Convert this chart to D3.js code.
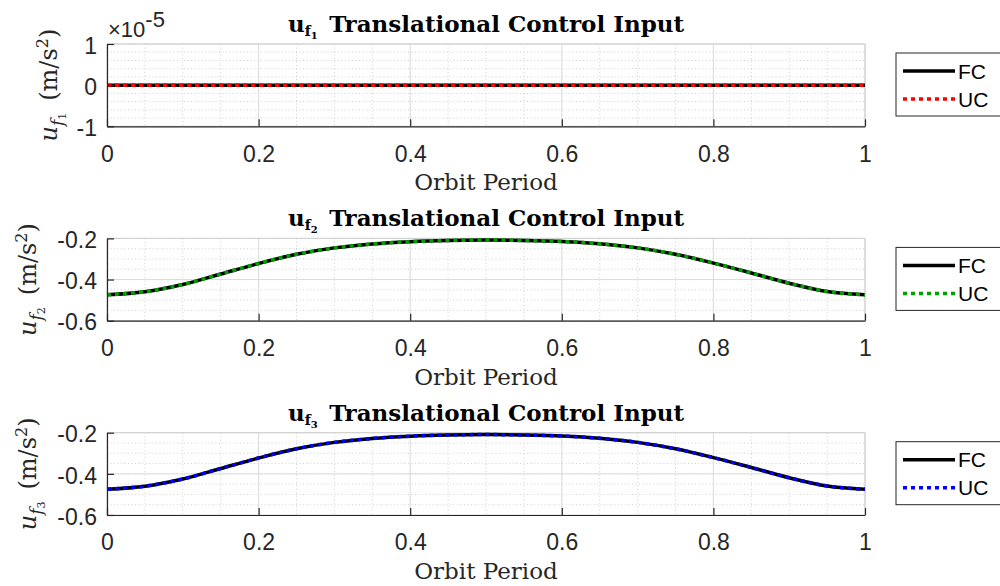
<!DOCTYPE html>
<html>
<head>
<meta charset="utf-8">
<script src="https://cdn.jsdelivr.net/npm/d3@7"></script>
<style>
  body { margin: 0; background: #fff; }
  svg { display: block; }
</style>
</head>
<body>
<div id="chart"></div>
<script>
// orbit period samples (x axis)
var period = [0, 0.05, 0.1, 0.15, 0.2, 0.25, 0.3, 0.35, 0.4, 0.45, 0.5,
              0.55, 0.6, 0.65, 0.7, 0.75, 0.8, 0.85, 0.9, 0.95, 1];

// u_f1 is zero all along the orbit
var uf1FC = [0, 0, 0, 0, 0, 0, 0, 0, 0, 0, 0, 0, 0, 0, 0, 0, 0, 0, 0, 0, 0];
var uf1UC = [0, 0, 0, 0, 0, 0, 0, 0, 0, 0, 0, 0, 0, 0, 0, 0, 0, 0, 0, 0, 0];

// u_f2 (m/s^2)
var uf2FC = [-0.474, -0.459, -0.424, -0.373, -0.322, -0.277, -0.246, -0.227, -0.216, -0.210, -0.208,
             -0.210, -0.215, -0.226, -0.246, -0.277, -0.320, -0.368, -0.418, -0.458, -0.474];
var uf2UC = [-0.474, -0.459, -0.424, -0.373, -0.322, -0.277, -0.246, -0.227, -0.216, -0.210, -0.208,
             -0.210, -0.215, -0.226, -0.246, -0.277, -0.320, -0.368, -0.418, -0.458, -0.474];

// u_f3 (m/s^2)
var uf3FC = [-0.475, -0.460, -0.425, -0.374, -0.323, -0.278, -0.247, -0.228, -0.217, -0.211, -0.209,
             -0.211, -0.216, -0.227, -0.247, -0.278, -0.321, -0.369, -0.419, -0.459, -0.475];
var uf3UC = [-0.475, -0.460, -0.425, -0.374, -0.323, -0.278, -0.247, -0.228, -0.217, -0.211, -0.209,
             -0.211, -0.216, -0.227, -0.247, -0.278, -0.321, -0.369, -0.419, -0.459, -0.475];

var xTicks = [0, 0.2, 0.4, 0.6, 0.8, 1];
var yTicks1 = [-1, 0, 1];
var yTicks23 = [-0.6, -0.4, -0.2];
var legendNames = ["FC", "UC"];

var W = 1000, H = 586;
var left = 107, right = 865, plotH = 82.3;
var tops = [44, 238.4, 432.7];
var sans = "'Liberation Sans', Arial, Helvetica, sans-serif";
var serif = "'DejaVu Serif', serif";
var axisColor = "#262626";

// ylabX: the ylabel sits left of the widest tick label
var panels = [
  {idx: "1", fc: uf1FC, uc: uf1UC, domain: [-1, 1], ticks: yTicks1, minor: 0.2, color: "#ff0000", exp: true, ylabX: 57},
  {idx: "2", fc: uf2FC, uc: uf2UC, domain: [-0.6, -0.2], ticks: yTicks23, minor: 0.05, color: "#00a000", ylabX: 36},
  {idx: "3", fc: uf3FC, uc: uf3UC, domain: [-0.6, -0.2], ticks: yTicks23, minor: 0.05, color: "#0000ff", ylabX: 36}
];

var svg = d3.select("#chart").append("svg")
    .attr("width", W)
    .attr("height", H);

var x = d3.scaleLinear().domain([0, 1]).range([left, right]);

panels.forEach(function(p, k) {
  var top = tops[k];
  var y = d3.scaleLinear().domain(p.domain).range([top + plotH, top]);
  var g = svg.append("g");

  // minor grid (dotted)
  var xMinor = d3.range(0, 1.0001, 0.05);
  g.selectAll(".xminor").data(xMinor).enter().append("line")
      .attr("x1", d => x(d)).attr("x2", d => x(d))
      .attr("y1", top).attr("y2", top + plotH)
      .attr("stroke", "#c4c4c4").attr("stroke-width", 0.8)
      .attr("stroke-dasharray", "1,2.5");
  var yMinor = d3.range(p.domain[0], p.domain[1] + 1e-9, p.minor);
  g.selectAll(".yminor").data(yMinor).enter().append("line")
      .attr("x1", left).attr("x2", right)
      .attr("y1", d => y(d)).attr("y2", d => y(d))
      .attr("stroke", "#c4c4c4").attr("stroke-width", 0.8)
      .attr("stroke-dasharray", "1,2.5");

  // major grid
  g.selectAll(".xmajor").data(xTicks).enter().append("line")
      .attr("x1", d => x(d)).attr("x2", d => x(d))
      .attr("y1", top).attr("y2", top + plotH)
      .attr("stroke", "#dcdcdc").attr("stroke-width", 1);
  g.selectAll(".ymajor").data(p.ticks).enter().append("line")
      .attr("x1", left).attr("x2", right)
      .attr("y1", d => y(d)).attr("y2", d => y(d))
      .attr("stroke", "#dcdcdc").attr("stroke-width", 1);

  // top and right edges are light
  g.append("path")
      .attr("d", "M" + left + "," + top + "H" + right + "V" + (top + plotH))
      .attr("fill", "none").attr("stroke", "#d0d0d0").attr("stroke-width", 1);

  // lines
  var line = d3.line()
      .x(function(d, i) { return x(period[i]); })
      .y(function(d) { return y(d); })
      .curve(d3.curveCatmullRom.alpha(0.5));

  g.append("path").datum(p.fc)
      .attr("d", line)
      .attr("fill", "none").attr("stroke", "#000").attr("stroke-width", 3.5);
  g.append("path").datum(p.uc)
      .attr("d", line)
      .attr("fill", "none").attr("stroke", p.color).attr("stroke-width", 3.5)
      .attr("stroke-dasharray", "4,4");

  // axes
  var xAxis = g.append("g")
      .attr("transform", "translate(0," + (top + plotH) + ")")
      .call(d3.axisBottom(x).tickValues(xTicks).tickSizeInner(-7).tickSizeOuter(0)
            .tickPadding(19).tickFormat(d3.format("")));
  var yAxis = g.append("g")
      .attr("transform", "translate(" + left + ",0)")
      .call(d3.axisLeft(y).tickValues(p.ticks).tickSizeInner(-7).tickSizeOuter(0)
            .tickPadding(10).tickFormat(function(d) { return d3.format("")(d).replace("\u2212", "-"); }));

  [xAxis, yAxis].forEach(function(a) {
    a.select(".domain").attr("stroke", axisColor).attr("stroke-width", 1.2);
    a.selectAll(".tick line").attr("stroke", axisColor).attr("stroke-width", 1.2);
    a.selectAll(".tick text")
      .attr("fill", axisColor)
      .style("font-family", sans)
      .style("font-size", "23px");
  });
  yAxis.selectAll(".tick text").attr("dy", "0.4em");

  // exponent label
  if (p.exp) {
    var e = g.append("text")
        .attr("x", left + 1).attr("y", top - 7)
        .attr("fill", axisColor)
        .style("font-family", sans).style("font-size", "22px");
    e.append("tspan").text("\u00d710");
    e.append("tspan").attr("dy", -10).text("-5");
  }

  // title
  var t = g.append("text")
      .attr("x", (left + right) / 2).attr("y", top - 12)
      .attr("text-anchor", "middle")
      .attr("fill", "#000")
      .style("font-family", serif).style("font-weight", "bold").style("font-size", "23px");
  t.append("tspan").text("u");
  t.append("tspan").attr("dy", 4).style("font-size", "14px").text("f");
  t.append("tspan").attr("dy", 3).style("font-size", "10px").text(p.idx);
  t.append("tspan").attr("dy", -7).text("\u2002Translational Control Input");

  // x label
  g.append("text")
      .attr("x", (left + right) / 2).attr("y", top + plotH + 64)
      .attr("text-anchor", "middle")
      .attr("fill", axisColor)
      .style("font-family", serif).style("font-size", "23px")
      .text("Orbit Period");

  // y label
  var yl = g.append("text")
      .attr("transform", "translate(" + p.ylabX + "," + (top + plotH / 2) + ") rotate(-90)")
      .attr("text-anchor", "middle")
      .attr("fill", axisColor)
      .style("font-family", serif).style("font-size", "24px");
  yl.append("tspan").style("font-style", "italic").text("u");
  yl.append("tspan").attr("dy", 6).style("font-style", "italic").style("font-size", "17px").text("f");
  yl.append("tspan").attr("dy", 3).style("font-size", "11px").text(p.idx);
  yl.append("tspan").attr("dy", -9).text("\u2002(m/s");
  yl.append("tspan").attr("dy", -9).style("font-size", "16px").text("2");
  yl.append("tspan").attr("dy", 9).text(")");

  // legend
  var lg = g.append("g").attr("transform", "translate(896," + (top + 9) + ")");
  lg.append("rect")
      .attr("width", 130).attr("height", 63)
      .attr("fill", "#fff").attr("stroke", "#262626").attr("stroke-width", 1);
  var styles = [{stroke: "#000", dash: null}, {stroke: p.color, dash: "4,4"}];
  legendNames.forEach(function(name, i) {
    var ly = 18 + i * 28;
    lg.append("line")
        .attr("x1", 7).attr("x2", 59).attr("y1", ly).attr("y2", ly)
        .attr("stroke", styles[i].stroke).attr("stroke-width", 3.5)
        .attr("stroke-dasharray", styles[i].dash);
    lg.append("text")
        .attr("x", 62).attr("y", ly).attr("dy", "0.36em")
        .attr("fill", "#000")
        .style("font-family", sans).style("font-size", "21px")
        .text(name);
  });
});
</script>
</body>
</html>
